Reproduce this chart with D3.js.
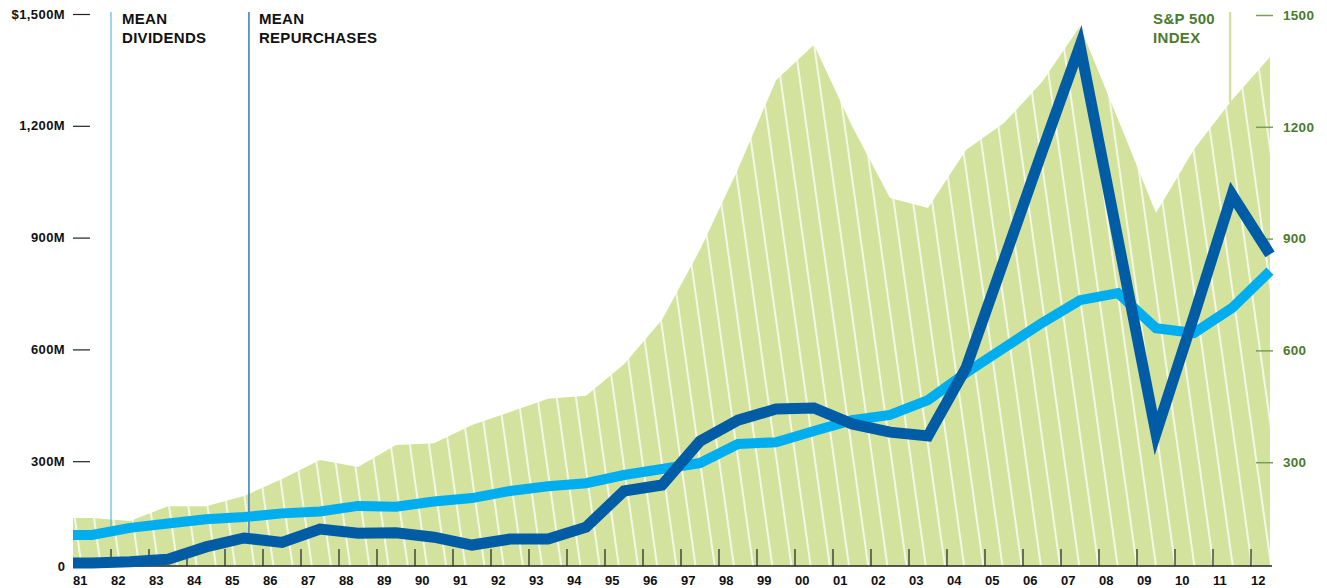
<!DOCTYPE html>
<html>
<head>
<meta charset="utf-8">
<script src="https://cdn.jsdelivr.net/npm/d3@7"></script>
<style>
  body { margin: 0; background: #fff; }
  text { font-family: "Liberation Sans", Arial, sans-serif; font-weight: bold; }
</style>
</head>
<body>
<svg></svg>
<script>
// Data (millions of $ / index points)
const years = [1981, 1982, 1983, 1984, 1985, 1986, 1987, 1988, 1989, 1990,
  1991, 1992, 1993, 1994, 1995, 1996, 1997, 1998, 1999, 2000,
  2001, 2002, 2003, 2004, 2005, 2006, 2007, 2008, 2009, 2010, 2011, 2012];
const yearLabels = ["81", "82", "83", "84", "85", "86", "87", "88", "89", "90",
  "91", "92", "93", "94", "95", "96", "97", "98", "99", "00",
  "01", "02", "03", "04", "05", "06", "07", "08", "09", "10", "11", "12"];
const sp500 = [150, 142, 182, 182, 209, 255, 306, 287, 346, 351,
  400, 435, 470, 478, 563, 682, 870, 1086, 1325, 1420,
  1202, 1009, 982, 1138, 1210, 1320, 1470, 1220, 969, 1140, 1272, 1387];
const dividends = [102, 121, 133, 144, 150, 160, 165, 180, 178, 192,
  201, 220, 233, 241, 263, 279, 295, 346, 351, 381,
  410, 424, 464, 537, 604, 671, 732, 751, 657, 644, 711, 810];
const repurchases = [27, 30, 37, 70, 94, 82, 118, 107, 108, 96,
  75, 91, 91, 123, 220, 236, 354, 410, 440, 443,
  400, 378, 368, 550, 840, 1130, 1415, 895, 375, 690, 1015, 855];
const leftTicks = [300, 600, 900, 1200, 1500];
const leftTickLabels = ["300M", "600M", "900M", "1,200M", "$1,500M"];
const rightTicks = [300, 600, 900, 1200, 1500];

const width = 1327;
const height = 588;
const svg = d3.select("svg").attr("width", width).attr("height", height);

const green = "#d3e29c";
const lightBlue = "#00aeef";
const darkBlue = "#005ca5";
const textGreen = "#4b7b2d";

// scales: each year occupies one slot, values sit in the middle of it
const x = d3.scaleLinear().domain([1981, 2013]).range([73, 1289]);
const y = d3.scaleLinear().domain([0, 1500]).range([573, 14]);
const yRight = d3.scaleLinear().domain([0, 1500]).range([574, 15]);
const baseY = 566;
const plotLeft = x(1981);
const plotRight = x(2012.5);

// points, first value held back to the left edge of the plot
function points(values) {
  const pts = years.map((yr, i) => [x(yr + 0.5), values[i]]);
  pts.unshift([plotLeft, values[0]]);
  return pts;
}
function valueAt(values, px) {
  const pts = points(values);
  const i = d3.bisector((d) => d[0]).left(pts, px);
  const a = pts[Math.max(0, i - 1)], b = pts[Math.min(pts.length - 1, i)];
  if (a[0] === b[0]) return a[1];
  return a[1] + (b[1] - a[1]) * (px - a[0]) / (b[0] - a[0]);
}

// hatch pattern
const defs = svg.append("defs");
const pat = defs.append("pattern")
  .attr("id", "hatch")
  .attr("patternUnits", "userSpaceOnUse")
  .attr("width", 19)
  .attr("height", 60)
  .attr("patternTransform", "rotate(-8)");
pat.append("rect").attr("width", 19).attr("height", 60).attr("fill", green);
pat.append("line")
  .attr("x1", 2).attr("x2", 2).attr("y1", -1).attr("y2", 61)
  .attr("stroke", "#fff").attr("stroke-width", 1.5);

// S&P 500 area
const area = d3.area().x((d) => d[0]).y0(baseY).y1((d) => yRight(d[1]));
svg.append("path").attr("d", area(points(sp500))).attr("fill", "url(#hatch)");

// x axis
const xAxis = svg.append("g");
xAxis.append("line")
  .attr("x1", plotLeft).attr("x2", plotRight + 2)
  .attr("y1", baseY).attr("y2", baseY)
  .attr("stroke", "#222").attr("stroke-width", 1.5);
xAxis.selectAll(".tick")
  .data(years.slice(1))
  .enter()
  .append("line")
  .attr("x1", (d) => x(d)).attr("x2", (d) => x(d))
  .attr("y1", baseY - 17).attr("y2", baseY)
  .attr("stroke", "#222").attr("stroke-width", 1.2);
xAxis.selectAll(".lbl")
  .data(years)
  .enter()
  .append("text")
  .attr("x", (d) => x(d))
  .attr("y", 585)
  .attr("font-size", "13px")
  .attr("fill", "#111")
  .text((d, i) => yearLabels[i]);

// left axis
const leftAxis = svg.append("g")
  .attr("transform", "translate(90,0)")
  .call(d3.axisLeft(y).tickValues(leftTicks).tickSize(17).tickPadding(8)
    .tickFormat((d, i) => leftTickLabels[i]));
leftAxis.select(".domain").remove();
leftAxis.selectAll("line").attr("stroke", "#222").attr("stroke-width", 1.2);
leftAxis.selectAll("text")
  .attr("font-size", "13px").attr("letter-spacing", "0.4px").attr("fill", "#111")
  .style("font-family", "'Liberation Sans', Arial, sans-serif").style("font-weight", "bold");
svg.append("text")
  .attr("x", 65).attr("y", baseY).attr("dy", "0.35em")
  .attr("text-anchor", "end").attr("font-size", "13px").attr("fill", "#111")
  .text("0");

// right axis
const rightAxis = svg.append("g")
  .attr("transform", "translate(1256,0)")
  .call(d3.axisRight(yRight).tickValues(rightTicks).tickSize(17).tickPadding(10)
    .tickFormat(d3.format("d")));
rightAxis.select(".domain").remove();
rightAxis.selectAll("line").attr("stroke", "#7c9e5a").attr("stroke-width", 1.5);
rightAxis.selectAll("text")
  .attr("font-size", "13.5px").attr("letter-spacing", "0.3px").attr("fill", textGreen)
  .style("font-family", "'Liberation Sans', Arial, sans-serif").style("font-weight", "bold");

// legend pointer lines
const legends = [
  { pos: 1982.0, values: dividends, scale: y, color: "#5ab9d3", width: 1.2, lines: ["MEAN", "DIVIDENDS"], text: "#111", dx: 11 },
  { pos: 1985.63, values: repurchases, scale: y, color: "#3a78b5", width: 1.5, lines: ["MEAN", "REPURCHASES"], text: "#111", dx: 10 },
  { pos: 2011.45, values: sp500, scale: yRight, color: green, width: 2.5, lines: ["S&P 500", "INDEX"], text: textGreen, dx: -77 }
];
legends.forEach((l) => {
  const px = x(l.pos);
  svg.append("line")
    .attr("x1", px).attr("x2", px)
    .attr("y1", 12).attr("y2", l.scale(valueAt(l.values, px)))
    .attr("stroke", l.color).attr("stroke-width", l.width);
  svg.append("g")
    .selectAll("text")
    .data(l.lines)
    .enter()
    .append("text")
    .attr("x", px + l.dx)
    .attr("y", (d, i) => 24 + i * 19)
    .attr("font-size", "15px")
    .attr("letter-spacing", "0.3px")
    .attr("fill", l.text)
    .text((d) => d);
});

// lines
const line = d3.line().x((d) => d[0]).y((d) => y(d[1]));
svg.append("path")
  .attr("d", line(points(dividends)))
  .attr("fill", "none")
  .attr("stroke", lightBlue)
  .attr("stroke-width", 10)
  .attr("stroke-linejoin", "miter")
  .attr("stroke-miterlimit", 10);
svg.append("path")
  .attr("d", line(points(repurchases)))
  .attr("fill", "none")
  .attr("stroke", darkBlue)
  .attr("stroke-width", 11)
  .attr("stroke-linejoin", "miter")
  .attr("stroke-miterlimit", 10);
</script>
</body>
</html>
